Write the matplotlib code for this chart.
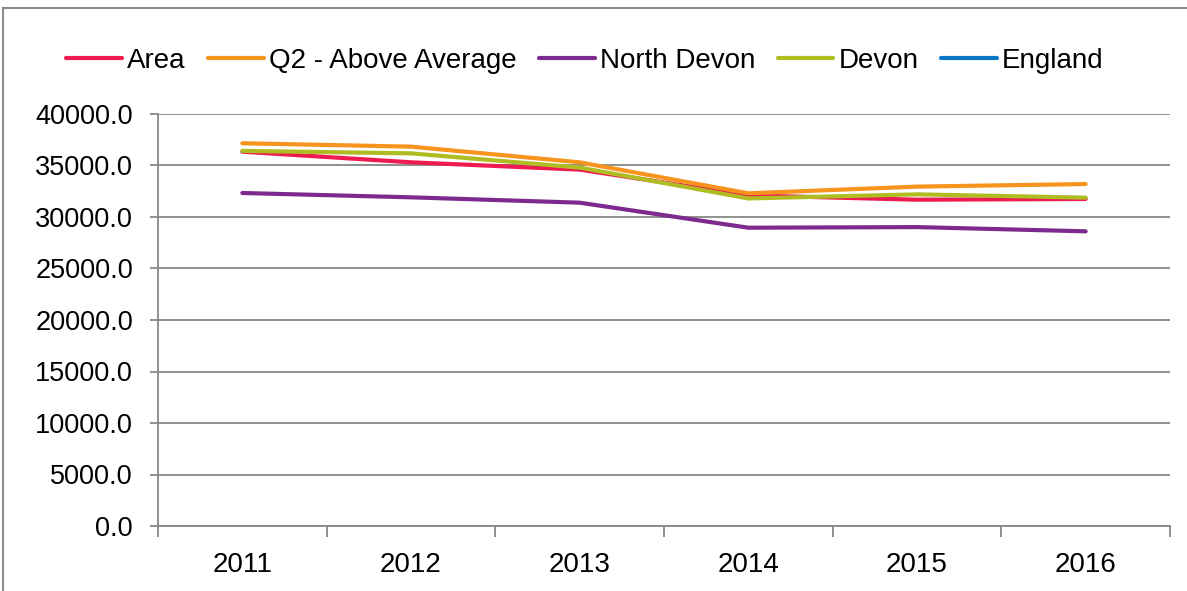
import numpy as np
import matplotlib.pyplot as plt
from matplotlib.lines import Line2D
from matplotlib.ticker import MultipleLocator, FormatStrFormatter

years = ["2011", "2012", "2013", "2014", "2015", "2016"]
area = [36340, 35310, 34600, 32100, 31680, 31750]
q2_above_avg = [37160, 36830, 35310, 32300, 32950, 33200]
north_devon = [32330, 31910, 31390, 28960, 29020, 28610]
devon = [36420, 36180, 34800, 31800, 32200, 31880]
england = [np.nan] * 6

series = [
    ("Area", area, "#ED1B4F"),
    ("Q2 - Above Average", q2_above_avg, "#F7941D"),
    ("North Devon", north_devon, "#7D2A8E"),
    ("Devon", devon, "#AFBD22"),
    ("England", england, "#0B76C8"),
]

plt.rcParams['font.family'] = ['Liberation Sans', 'DejaVu Sans']

fig = plt.figure(figsize=(11.87, 5.91), dpi=100)
ax = fig.add_axes([158 / 1187, 1 - 526 / 591, (1170 - 158) / 1187, (526 - 114) / 591])

x = np.arange(len(years))
for name, vals, col in series:
    ax.plot(x, vals, color=col, lw=3, solid_capstyle='round',
            solid_joinstyle='round', label=name)

ax.set_xlim(-0.5, len(years) - 0.5)
ax.set_ylim(0, 40000)
ax.yaxis.set_major_locator(MultipleLocator(5000))
ax.yaxis.set_major_formatter(FormatStrFormatter('%.1f'))
ax.set_xticks(x)
ax.set_xticklabels(years)
ax.set_xticks(np.arange(-0.5, len(years)), minor=True)

grid_col = "#878787"
ax.grid(axis='y', color=grid_col, lw=1.3)
ax.set_axisbelow(True)
for s in ['top', 'right']:
    ax.spines[s].set_visible(False)
ax.spines['left'].set_color(grid_col)
ax.spines['bottom'].set_color(grid_col)
ax.spines['left'].set_linewidth(1.3)
ax.spines['bottom'].set_linewidth(1.3)

ax.tick_params(axis='y', labelsize=19.5, length=6, color=grid_col, width=1.3, pad=12)
ax.tick_params(axis='x', which='major', labelsize=20, length=0, pad=19)
ax.tick_params(axis='x', which='minor', length=8, color=grid_col, width=1.3)

ax.legend(loc='center', bbox_to_anchor=(585 / 1187, 1 - 61 / 591),
          bbox_transform=fig.transFigure, ncol=5, frameon=False,
          fontsize=20, handlelength=2.0, handletextpad=0.2,
          columnspacing=0.8)

# outer chart border
fig.add_artist(Line2D([3 / 1187, 1.0], [1 - 8 / 591, 1 - 8 / 591],
                      transform=fig.transFigure, color="#8c8c8c", lw=1.5))
fig.add_artist(Line2D([3 / 1187, 3 / 1187], [0.0, 1 - 8 / 591],
                      transform=fig.transFigure, color="#8c8c8c", lw=1.5))

fig.savefig("out.png", dpi=100)
